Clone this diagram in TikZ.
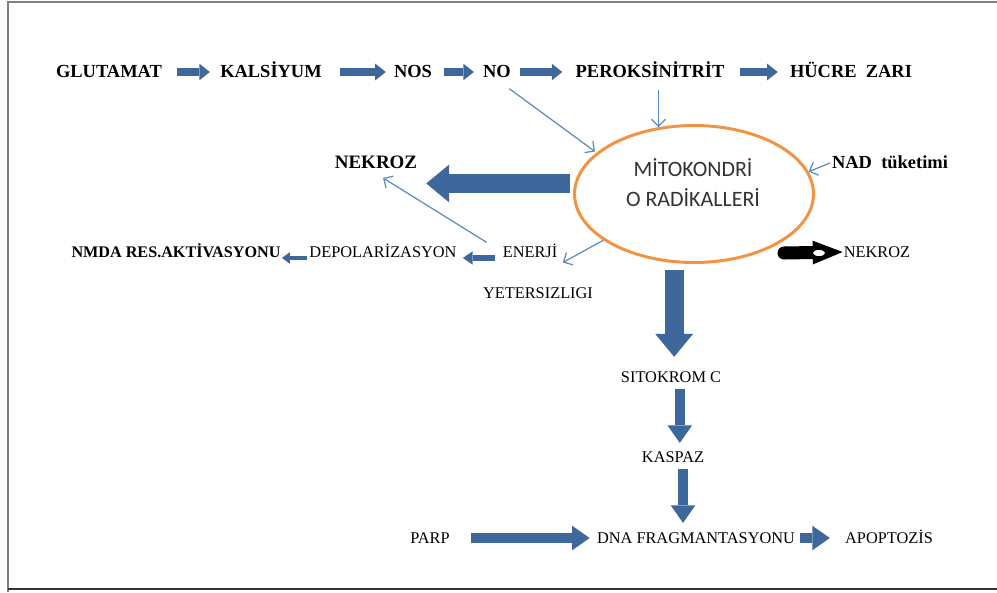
\documentclass[tikz,border=0pt]{standalone}
\usepackage{fontspec}
\setmainfont{Liberation Serif}
\newfontfamily\mitofont{Carlito}
\usetikzlibrary{arrows.meta,shapes.geometric}

\definecolor{flowblue}{HTML}{3E679C}
\definecolor{linkblue}{HTML}{5B8AC6}
\definecolor{mitoorange}{HTML}{F29343}

\begin{document}
\begin{tikzpicture}[
        x=0.02cm, y=-0.02cm,
        toptext/.style={inner sep=0pt, text height=0.66em, text depth=0pt, font=\fontsize{10.5pt}{12pt}\selectfont\bfseries},
        lowtext/.style={inner sep=0pt, text height=0.66em, text depth=0pt, font=\fontsize{9.3pt}{11pt}\selectfont},
        lowbold/.style={inner sep=0pt, text height=0.66em, text depth=0pt, font=\fontsize{9.2pt}{11pt}\selectfont\bfseries},
        toparrow/.style={draw=flowblue, line width=4pt, -{Triangle[length=6pt,width=9.5pt,line width=0pt]}},
        midarrow/.style={draw=flowblue, line width=5.7pt, -{Triangle[length=10pt,width=14pt,line width=0pt]}},
        smallarrow/.style={draw=flowblue, line width=3.4pt, -{Triangle[length=5.5pt,width=7.5pt,line width=0pt]}},
        bigarrow/.style={draw=flowblue, line width=10.8pt, -{Triangle[length=13pt,width=21.5pt,line width=0pt]}},
        thinarrow/.style={draw=linkblue, line width=0.7pt, -{Straight Barb[length=4pt,width=8pt]}},
    ]
    \useasboundingbox (0,0) rectangle (997,592);

    % frame
    \draw[gray, line width=0.9pt] (8,592) -- (8,2) -- (997,2);
    \draw[black!80, line width=0.9pt] (8,589) -- (997,589);

    % top chain
    \node[toptext] (glu) at (109,72) {GLUTAMAT};
    \node[toptext] (kal) at (271,72) {KALSİYUM};
    \node[toptext] (nos) at (413,72) {NOS};
    \node[toptext] (no) at (497,72) {NO};
    \node[toptext] (per) at (650,72) {PEROKSİNİTRİT};
    \node[toptext] (hucre) at (851,72) {HÜCRE\ \ ZARI};

    \draw[toparrow, shorten <=8.5pt, shorten >=5.7pt] (glu.east) -- (kal.west);
    \draw[toparrow, shorten <=10.2pt, shorten >=4.5pt] (kal.east) -- (nos.west);
    \draw[toparrow, shorten <=6.8pt, shorten >=5.1pt] (nos.east) -- (no.west);
    \draw[toparrow, shorten <=5.1pt, shorten >=7.4pt] (no.east) -- (per.west);
    \draw[toparrow, shorten <=8.5pt, shorten >=6.8pt] (per.east) -- (hucre.west);

    % mitochondria
    \node[ellipse, draw=mitoorange, line width=1.7pt, minimum width=4.78cm, minimum height=2.74cm] (mito) at (694,194) {};
    \node[font=\mitofont\fontsize{12.5pt}{17pt}\selectfont, align=center, text=black!80] (mitotxt) at (693,183) {MİTOKONDRİ\\O RADİKALLERİ};

    \node[toptext, font=\fontsize{10.8pt}{12pt}\selectfont\bfseries] (nek1) at (376,163) {NEKROZ};
    \node[toptext] (nad) at (890,163) {NAD\ \ tüketimi};

    \draw[thinarrow, shorten >=1pt] ([shift={(7pt,-6pt)}]no.south) -- (mito.157);
    \draw[thinarrow] (mito.118 |- per.south) ++(0,-7pt) -- (mito.118);
    \draw[thinarrow] ([xshift=-1pt]nad.west) -- (mito.11);

    \coordinate (bigs) at ([shift={(-2pt,6pt)}]mito.west);
    \draw[bigarrow, shorten >=5pt] (bigs) -- (bigs -| nek1.east);

    % energy row
    \node[lowbold] (nmda) at (176,252) {NMDA RES.AKTİVASYONU};
    \node[lowtext] (depol) at (383,252) {DEPOLARİZASYON};
    \node[lowtext] (ener) at (530,252) {ENERJİ};
    \node[lowtext] (yet) at (538,293) {YETERSIZLIGI};

    \draw[smallarrow, shorten <=4pt, shorten >=3.4pt] ([yshift=-3.4pt]ener.west) -- ([yshift=-3.4pt]depol.east);
    \draw[smallarrow, -{Triangle[length=4.5pt,width=6.5pt,line width=0pt]}, line width=2.8pt, shorten <=1pt, shorten >=0.6pt] ([yshift=-3.4pt]depol.west) -- ([yshift=-3.4pt]nmda.east);

    \draw[thinarrow] (mito.207) -- ([shift={(3pt,-2.5pt)}]ener.south east);
    \draw[thinarrow] ([shift={(-9pt,2pt)}]ener.north west) -- ([shift={(4pt,-5pt)}]nek1.south);

    % right necrosis
    \node[lowtext] (nek2) at (877,252) {NEKROZ};
    \coordinate (blk) at (784,253);
    \draw[black, line width=7.4pt, line cap=round, -{Triangle[length=17pt,width=13.5pt,line width=0pt]}, shorten >=0.5pt] (blk) -- (nek2.west);
    \fill[white] (819,253) ellipse [x radius=3.4pt, y radius=1.7pt];

    % apoptosis path
    \coordinate (downs) at ([shift={(-11.3pt,-3.4pt)}]mito.south);
    \node[lowtext] (sito) at (671,377) {SITOKROM C};
    \node[lowtext] (kasp) at (673,457) {KASPAZ};
    \node[lowtext] (parp) at (430,538) {PARP};
    \node[lowtext] (dna) at (696,538) {DNA FRAGMANTASYONU};
    \node[lowtext] (apop) at (889,538) {APOPTOZİS};

    \draw[bigarrow, shorten >=8pt] (downs) -- (downs |- sito.north);
    \draw[midarrow, shorten <=3.4pt, shorten >=4.5pt] ([xshift=5pt]sito.south) -- ([xshift=5pt]sito.south |- kasp.north);
    \draw[midarrow, shorten <=3.4pt, shorten >=5.1pt] ([xshift=5.7pt]kasp.south) -- ([xshift=5.7pt]kasp.south |- dna.north);
    \draw[midarrow, shorten <=12pt, shorten >=4pt] (parp.east) -- (dna.west);
    \draw[midarrow, shorten <=2.8pt, shorten >=8.5pt] (dna.east) -- (apop.west);
\end{tikzpicture}
\end{document}
